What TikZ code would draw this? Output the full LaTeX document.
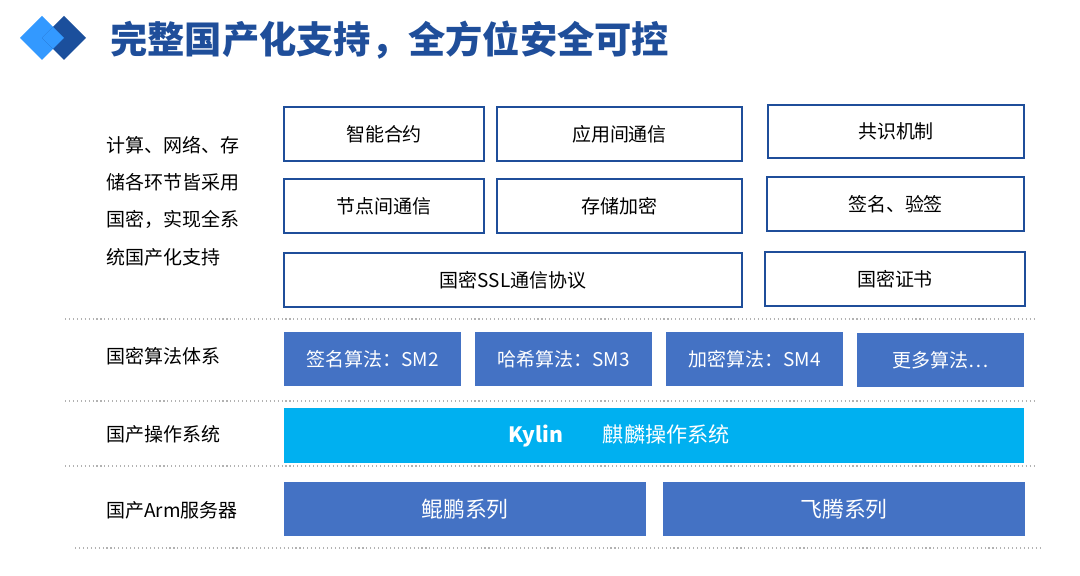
\documentclass[tikz,border=0pt]{standalone}
\usepackage{fontspec}
\setmainfont{Noto Sans CJK SC}
\definecolor{titleblue}{HTML}{1F4E9A}
\definecolor{algblue}{HTML}{4472C4}
\definecolor{osblue}{HTML}{00B0F0}
\definecolor{lightdia}{HTML}{3399FF}
\definecolor{darkdia}{HTML}{1B4F9C}
\tikzset{
  wbox/.style={draw=titleblue, line width=0.8pt, fill=white, font=\fontsize{13.5}{15}\selectfont, inner sep=0pt},
  bbox/.style={fill=algblue, text=white, font=\fontsize{13.5}{15}\selectfont, inner sep=0pt},
  lbl/.style={anchor=west, font=\fontsize{13.5}{15}\selectfont, align=left, inner sep=0pt},
  sep/.style={gray!60, dotted, line width=0.8pt}
}
\newcommand{\pbox}[6]{% style, name, x1, y1, x2, y2 ... text after
  \node[#1, minimum width={(#5-#3)*0.025cm}, minimum height={(#6-#4)*0.025cm}] (#2) at ({(#3+#5)/2},{(#4+#6)/2})}
\begin{document}
\begin{tikzpicture}[x=0.025cm, y=-0.025cm]
  \useasboundingbox (0,0) rectangle (1080,576);
  % logo and title
  \fill[lightdia] (20,38) -- (42,16) -- (64,38) -- (42,60) -- cycle;
  \fill[darkdia] (42,38) -- (64,16) -- (86,38) -- (64,60) -- cycle;
  \fill[lightdia] (42,38) -- (53,27) -- (64,38) -- (53,49) -- cycle;
  \node[anchor=west, text=titleblue, font=\fontsize{26.5}{30}\selectfont\bfseries, inner sep=0pt] (title) at (110,40) {完整国产化支持，全方位安全可控};

  % left labels
  \node[lbl, align=left, font=\fontsize{13.5}{26.5}\selectfont] (l1) at (106,201) {计算、网络、存\\储各环节皆采用\\国密，实现全系\\统国产化支持};
  \node[lbl] (l2) at (106,356) {国密算法体系};
  \node[lbl] (l3) at (106,434) {国产操作系统};
  \node[lbl] (l4) at (106,510) {国产Arm服务器};

  % application layer
  \pbox{wbox}{a1}{284}{107}{484}{161} {智能合约};
  \pbox{wbox}{a2}{497}{107}{742}{161} {应用间通信};
  \pbox{wbox}{a3}{768}{105}{1024}{158} {共识机制};
  \pbox{wbox}{b1}{284}{179}{484}{233} {节点间通信};
  \pbox{wbox}{b2}{497}{179}{742}{233} {存储加密};
  \pbox{wbox}{b3}{767}{177}{1024}{231} {签名、验签};
  \pbox{wbox}{c1}{284}{253}{742}{307} {国密SSL通信协议};
  \pbox{wbox}{c2}{765}{252}{1025}{306} {国密证书};

  % algorithms
  \pbox{bbox}{s1}{284}{332}{461}{386} {签名算法：SM2};
  \pbox{bbox}{s2}{475}{332}{652}{386} {哈希算法：SM3};
  \pbox{bbox}{s3}{666}{332}{843}{386} {加密算法：SM4};
  \pbox{bbox}{s4}{857}{333}{1024}{387} {更多算法…};

  % os
  \pbox{bbox, fill=osblue}{os}{284}{408}{1024}{463} {};
  \node[text=white, font=\fontsize{15}{17}\selectfont, inner sep=0pt] (ostext) at (619,436) {\textbf{Kylin}\hspace{1cm}麒麟操作系统};

  % servers
  \pbox{bbox}{h1}{284}{482}{646}{536} {\fontsize{15.5}{17}\selectfont 鲲鹏系列};
  \pbox{bbox}{h2}{663}{482}{1025}{536} {\fontsize{15.5}{17}\selectfont 飞腾系列};

  % separators
  \draw[sep] (65,319) -- (1035,319);
  \draw[sep] (65,401) -- (1035,401);
  \draw[sep] (65,466) -- (1035,466);
  \draw[sep] (75,548) -- (1040,548);
\end{tikzpicture}
\end{document}
